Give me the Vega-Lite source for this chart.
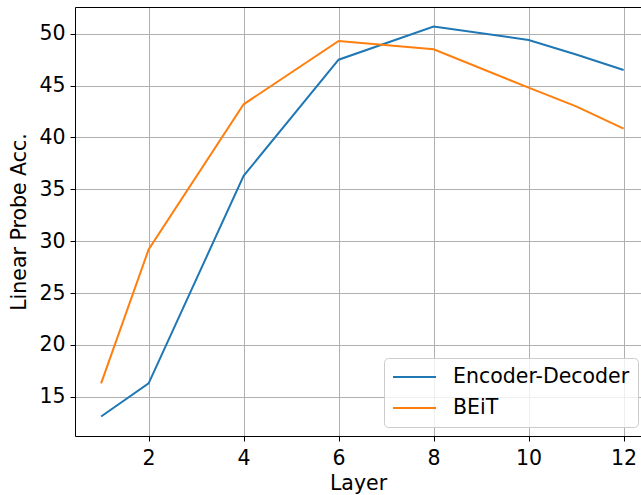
{
  "$schema": "https://vega.github.io/schema/vega-lite/v6.json",
  "width": 566,
  "height": 429,
  "autosize": {"type": "none"},
  "padding": {"left": 75, "top": 7, "right": 0, "bottom": 59},
  "background": "white",
  "config": {
    "font": "DejaVu Sans",
    "view": {"stroke": null},
    "axis": {
      "labelFont": "DejaVu Sans",
      "titleFont": "DejaVu Sans",
      "labelFontSize": 20.5,
      "titleFontSize": 20.5,
      "titleFontWeight": "normal",
      "labelColor": "#000000",
      "titleColor": "#000000",
      "domainColor": "#000000",
      "domainWidth": 1,
      "tickColor": "#000000",
      "tickWidth": 1,
      "tickSize": 5,
      "gridColor": "#b0b0b0",
      "gridWidth": 1
    }
  },
  "data": {
    "values": [
      {"layer": 1, "acc": 13.1, "model": "Encoder-Decoder"},
      {"layer": 2, "acc": 16.3, "model": "Encoder-Decoder"},
      {"layer": 4, "acc": 36.3, "model": "Encoder-Decoder"},
      {"layer": 6, "acc": 47.5, "model": "Encoder-Decoder"},
      {"layer": 8, "acc": 50.7, "model": "Encoder-Decoder"},
      {"layer": 10, "acc": 49.4, "model": "Encoder-Decoder"},
      {"layer": 11, "acc": 48.0, "model": "Encoder-Decoder"},
      {"layer": 12, "acc": 46.5, "model": "Encoder-Decoder"},
      {"layer": 1, "acc": 16.3, "model": "BEiT"},
      {"layer": 2, "acc": 29.2, "model": "BEiT"},
      {"layer": 4, "acc": 43.2, "model": "BEiT"},
      {"layer": 6, "acc": 49.3, "model": "BEiT"},
      {"layer": 8, "acc": 48.5, "model": "BEiT"},
      {"layer": 10, "acc": 44.8, "model": "BEiT"},
      {"layer": 11, "acc": 43.0, "model": "BEiT"},
      {"layer": 12, "acc": 40.85, "model": "BEiT"}
    ]
  },
  "layer": [
    {
      "mark": {"type": "line", "strokeWidth": 2, "clip": true},
      "encoding": {
        "x": {
          "field": "layer", "type": "quantitative",
          "scale": {"domain": [0.45, 12.366], "nice": false, "zero": false},
          "axis": {"title": "Layer", "values": [2, 4, 6, 8, 10, 12], "labelPadding": 7, "titlePadding": 5, "grid": true}
        },
        "y": {
          "field": "acc", "type": "quantitative",
          "scale": {"domain": [11.22, 52.58], "nice": false, "zero": false},
          "axis": {"title": "Linear Probe Acc.", "values": [15, 20, 25, 30, 35, 40, 45, 50], "labelPadding": 5, "titlePadding": 9, "grid": true}
        },
        "color": {
          "field": "model", "type": "nominal",
          "scale": {"domain": ["Encoder-Decoder", "BEiT"], "range": ["#1f77b4", "#ff7f0e"]},
          "legend": {
            "title": null,
            "orient": "none",
            "legendX": 309,
            "legendY": 351,
            "symbolType": "stroke",
            "symbolSize": 1849,
            "symbolStrokeWidth": 2,
            "clipHeight": 22,
            "labelFontSize": 20.5,
            "labelFont": "DejaVu Sans",
            "labelColor": "#000000",
            "labelLimit": 400,
            "labelOffset": 16,
            "rowPadding": 9,
            "padding": 8,
            "strokeColor": "#cccccc",
            "fillColor": "rgba(255,255,255,0.8)",
            "cornerRadius": 4
          }
        }
      }
    },
    {
      "mark": {"type": "line", "strokeOpacity": 0},
      "encoding": {
        "x": {
          "field": "layer", "type": "quantitative",
          "scale": {"domain": [0.45, 12.366], "nice": false, "zero": false},
          "axis": {"orient": "top", "title": null, "labels": false, "ticks": false, "grid": false, "domain": true}
        },
        "y": {"field": "acc", "type": "quantitative"},
        "detail": {"field": "model"}
      }
    }
  ],
  "resolve": {"axis": {"x": "independent"}}
}
